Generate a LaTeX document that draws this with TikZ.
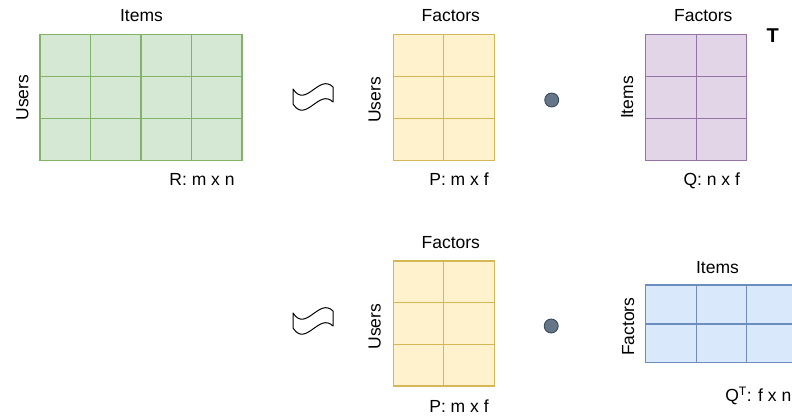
\documentclass[tikz,border=0pt]{standalone}
\usepackage{fontspec}
\setmainfont{Liberation Sans}
\definecolor{greenfill}{HTML}{D5E8D4}
\definecolor{greenline}{HTML}{82B366}
\definecolor{yellowfill}{HTML}{FFF2CC}
\definecolor{yellowline}{HTML}{D6B656}
\definecolor{purplefill}{HTML}{E1D5E7}
\definecolor{purpleline}{HTML}{9673A6}
\definecolor{bluefill}{HTML}{DAE8FC}
\definecolor{blueline}{HTML}{6C8EBF}
\definecolor{dotfill}{HTML}{647687}
\definecolor{dotline}{HTML}{314354}
\tikzset{
  lbl/.style={font=\fontsize{17.5}{20}\selectfont, inner sep=0pt, anchor=base},
  sidelbl/.style={lbl, rotate=90},
  mat/.style={rectangle, inner sep=0pt, outer sep=0pt, line width=1.2pt, anchor=north west},
  gmat/.style={mat, draw=greenline, fill=greenfill},
  ymat/.style={mat, draw=yellowline, fill=yellowfill},
  pmat/.style={mat, draw=purpleline, fill=purplefill},
  bmat/.style={mat, draw=blueline, fill=bluefill},
  approx/.style={draw=black, fill=white, line width=1pt, line join=round},
  dotnode/.style={circle, draw=dotline, fill=dotfill, minimum size=14pt, inner sep=0pt, line width=0.8pt},
}
\begin{document}
\begin{tikzpicture}[x=1pt, y=-1pt]
\useasboundingbox (0,0) rectangle (792,416);
\clip (0,0) rectangle (792,416);

% ---------- top row: R ~ P . Q^T ----------
% R: m x n
\node[gmat, minimum width=202pt, minimum height=126pt] (R) at (40,34.5) {};
\foreach \x in {90.5,141,191.5}
  \draw[greenline, line width=1.2pt] (\x,34.5) -- (\x,160.5);
\foreach \y in {76.5,118.5}
  \draw[greenline, line width=1.2pt] (40,\y) -- (242,\y);
\node[lbl] (Ritems) at (141.5,21.7) {Items};
\node[sidelbl] (Rusers) at (28.3,97.7) {Users};
\node[lbl] (Rname) at (202,185) {R: m x n};

% approximately-equal sign
\draw[approx] (293,89) .. controls (306,109) and (319,73) .. (333,87)
  -- (333,102) .. controls (319,88) and (306,124) .. (293,104) -- cycle;

% P: m x f
\node[ymat, minimum width=101pt, minimum height=126pt] (P) at (393.3,34.5) {};
\draw[yellowline, line width=1.2pt] (443.8,34.5) -- (443.8,160.5);
\foreach \y in {76.5,118.5}
  \draw[yellowline, line width=1.2pt] (393.3,\y) -- (494.3,\y);
\node[lbl] (Pfactors) at (450.8,21) {Factors};
\node[sidelbl] (Pusers) at (380.5,100) {Users};
\node[lbl] (Pname) at (459,185) {P: m x f};

% product dot
\node[dotnode] (dotA) at (551.7,100) {};

% Q: n x f
\node[pmat, minimum width=101pt, minimum height=126pt] (Q) at (645.7,34.5) {};
\draw[purpleline, line width=1.2pt] (696.2,34.5) -- (696.2,160.5);
\foreach \y in {76.5,118.5}
  \draw[purpleline, line width=1.2pt] (645.7,\y) -- (746.7,\y);
\node[lbl] (Qfactors) at (703.3,21) {Factors};
\node[sidelbl] (Qitems) at (633,97.5) {Items};
\node[lbl] (Qname) at (711.7,185) {Q: n x f};
\node[lbl, font=\fontsize{20}{24}\selectfont\bfseries] (Tmark) at (772.7,42.7) {T};

% ---------- bottom row: ~ P . Q^T ----------
\draw[approx] (293,313) .. controls (306,333) and (319,297) .. (333,311)
  -- (333,326) .. controls (319,312) and (306,348) .. (293,328) -- cycle;

% P: m x f
\node[ymat, minimum width=101pt, minimum height=125pt] (P2) at (393.3,261) {};
\draw[yellowline, line width=1.2pt] (443.8,261) -- (443.8,386);
\foreach \y in {302.7,344.3}
  \draw[yellowline, line width=1.2pt] (393.3,\y) -- (494.3,\y);
\node[lbl] (P2factors) at (450.8,248) {Factors};
\node[sidelbl] (P2users) at (380.5,326.7) {Users};
\node[lbl] (P2name) at (459,412) {P: m x f};

% product dot
\node[dotnode] (dotB) at (551.2,326) {};

% Q^T: f x n
\node[bmat, minimum width=202pt, minimum height=77.5pt] (QT) at (645.7,285) {};
\foreach \x in {696.2,746.7,797.2}
  \draw[blueline, line width=1.2pt] (\x,285) -- (\x,362.5);
\draw[blueline, line width=1.2pt] (645.7,324) -- (847.7,324);
\node[lbl] (QTitems) at (717.5,273.3) {Items};
\node[sidelbl] (QTfactors) at (634,326.7) {Factors};
\node[lbl] (QTname) at (758.3,401.5) {Q\textsuperscript{T}: f x n};
\end{tikzpicture}
\end{document}
